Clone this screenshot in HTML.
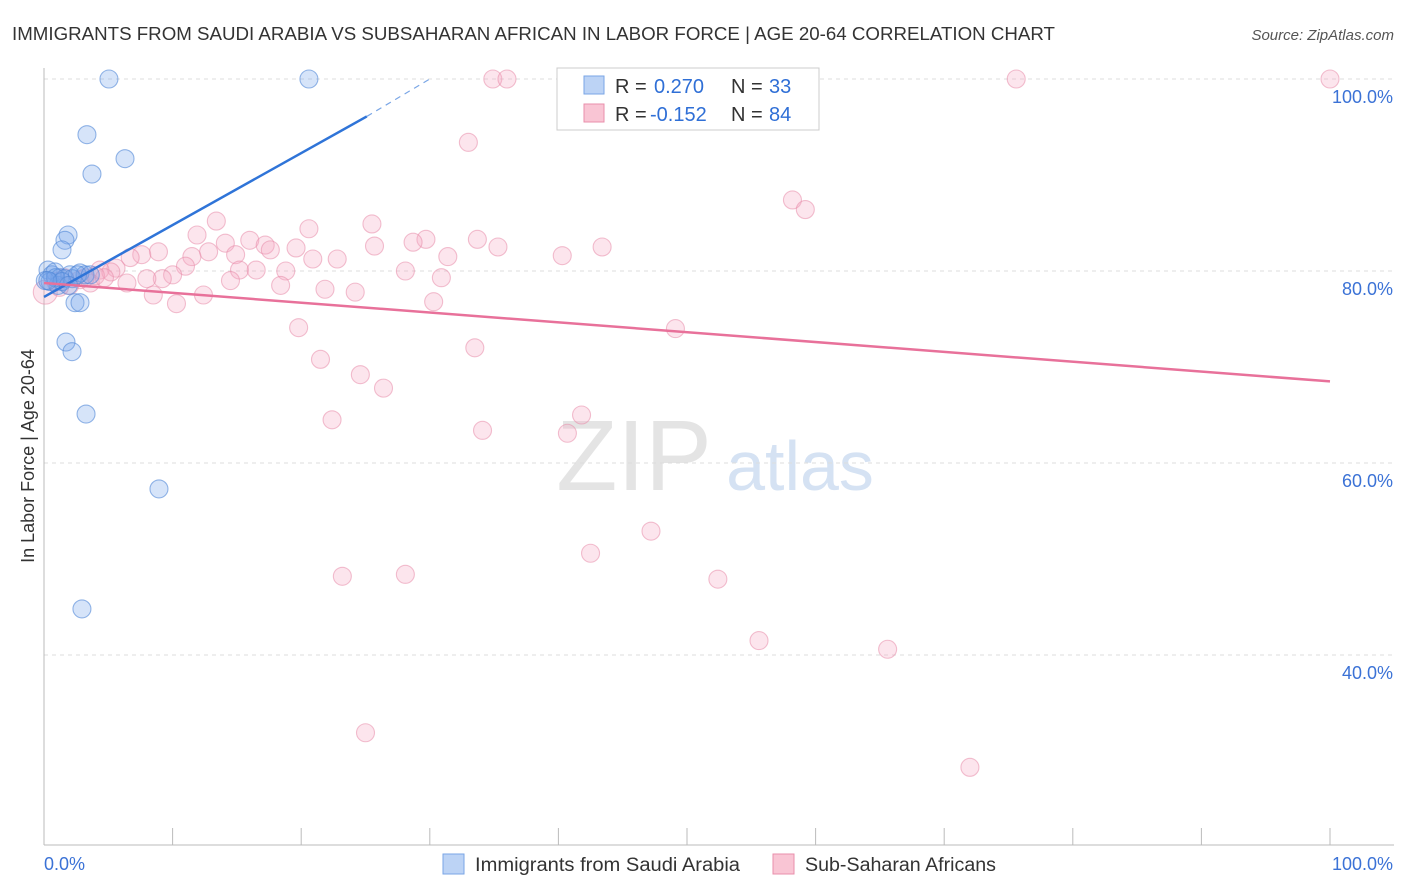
<!DOCTYPE html>
<html><head><meta charset="utf-8">
<style>
html,body{margin:0;padding:0;background:#fff;width:1406px;height:892px;overflow:hidden;font-family:"Liberation Sans",sans-serif;}
svg text{font-family:"Liberation Sans",sans-serif;}
</style></head>
<body>
<svg id="chart" width="1406" height="892" xmlns="http://www.w3.org/2000/svg">
<text x="12" y="40" font-size="18" fill="#333" textLength="1043" lengthAdjust="spacingAndGlyphs">IMMIGRANTS FROM SAUDI ARABIA VS SUBSAHARAN AFRICAN IN LABOR FORCE | AGE 20-64 CORRELATION CHART</text>
<text x="1394" y="40" font-size="15" fill="#555" font-style="italic" text-anchor="end">Source: ZipAtlas.com</text>
<text x="634" y="490" font-size="100" fill="#e4e4e4" font-family="Liberation Serif" text-anchor="middle">ZIP</text>
<text x="800" y="490" font-size="70" fill="#d5e2f3" text-anchor="middle">atlas</text>
<text transform="translate(34,456) rotate(-90)" font-size="18" fill="#333" text-anchor="middle">In Labor Force | Age 20-64</text>
<g id="grid"></g>
<g id="axes"></g>
<g id="pts"></g>
<g id="trend"></g>
<g>
<rect x="557" y="68" width="262" height="62" fill="#fff" stroke="#ccc"/>
<rect x="584" y="76" width="20" height="18" fill="#bcd3f5" stroke="#7aa6e6"/>
<rect x="584" y="104" width="20" height="18" fill="#f9c5d4" stroke="#e98fab"/>
<text x="615" y="93" font-size="20" fill="#333">R =</text>
<text x="654" y="93" font-size="20" fill="#2f6fd6">0.270</text>
<text x="731" y="93" font-size="20" fill="#333">N =</text>
<text x="769" y="93" font-size="20" fill="#2f6fd6">33</text>
<text x="615" y="121" font-size="20" fill="#333">R =</text>
<text x="650" y="121" font-size="20" fill="#2f6fd6">-0.152</text>
<text x="731" y="121" font-size="20" fill="#333">N =</text>
<text x="769" y="121" font-size="20" fill="#2f6fd6">84</text>
</g>
<g>
<rect x="443" y="854" width="21" height="20" fill="#bcd3f5" stroke="#7aa6e6"/>
<text x="475" y="871" font-size="19" fill="#333" textLength="265" lengthAdjust="spacingAndGlyphs">Immigrants from Saudi Arabia</text>
<rect x="773" y="854" width="21" height="20" fill="#f9c5d4" stroke="#e98fab"/>
<text x="805" y="871" font-size="19" fill="#333" textLength="191" lengthAdjust="spacingAndGlyphs">Sub-Saharan Africans</text>
</g>
</svg>
<script>
const yTicks=[40,60,80,100];
const yTickLabels=["40.0%","60.0%","80.0%","100.0%"];
const blueX=[5.05,20.6,3.34,6.3,3.73,1.87,1.63,1.4,0.31,0.62,0.86,1.24,2.02,2.8,3.19,0.47,1.09,2.41,2.8,1.71,2.18,3.27,8.94,2.95,0.1,1.6,2.2,2.6,3.6,0.9,1.4,0.3,1.9];
const blueY=[100,100,94.2,91.7,90.1,83.75,83.2,82.2,80.1,79.6,79.9,79.3,79.6,79.8,79.6,78.9,78.5,76.7,76.7,72.6,71.6,65.1,57.3,44.8,79.0,79.2,79.2,79.6,79.6,79.3,78.9,79.0,78.5];
const pinkX=[34.9,36.0,46.2,54.7,75.6,100,33.0,58.2,59.2,13.4,25.5,20.6,11.9,29.7,33.7,28.7,16.0,14.1,17.2,25.7,35.3,43.4,17.6,19.6,12.8,8.9,7.6,6.7,11.5,22.8,20.9,31.4,40.3,14.9,11.0,15.2,16.5,18.8,28.1,5.6,4.35,5.2,10.0,9.2,8.0,30.9,14.5,18.4,6.45,3.6,2.8,21.85,24.2,8.5,12.4,10.3,30.3,49.1,19.8,33.5,21.5,24.6,26.4,22.4,41.8,34.1,40.7,47.2,42.5,23.2,28.1,52.4,55.6,65.6,25.0,72.0,0.1,0.9,1.6,2.0,4.0,4.7,1.2,3.2];
const pinkY=[100,100,100,100,100,100,93.4,87.4,86.4,85.2,84.9,84.4,83.75,83.3,83.3,83.0,83.2,82.9,82.7,82.6,82.5,82.5,82.2,82.4,82.0,82.0,81.7,81.4,81.5,81.25,81.25,81.5,81.6,81.7,80.5,80.1,80.1,80.0,80.0,80.3,80.1,79.9,79.6,79.2,79.2,79.3,79.0,78.5,78.75,78.75,79.1,78.1,77.8,77.5,77.5,76.6,76.8,74.0,74.1,72.0,70.8,69.2,67.8,64.5,65.0,63.4,63.1,52.9,50.6,48.2,48.4,47.9,41.5,40.6,31.9,28.3,77.8,78.9,79.3,78.5,79.5,79.3,78.3,79.3];
const blueTrend=[[0,77.3],[25.1,96.1],[30,100]];
const pinkTrend=[[0,78.75],[100,68.5]];

const NS="http://www.w3.org/2000/svg";
const xs=v=>44+v*12.86;
const ys=v=>79+(100-v)*9.6;
function mk(tag,attrs,parent){const e=document.createElementNS(NS,tag);for(const k in attrs)e.setAttribute(k,attrs[k]);parent.appendChild(e);return e;}
const grid=document.getElementById('grid'),axes=document.getElementById('axes'),pts=document.getElementById('pts'),trend=document.getElementById('trend');
yTicks.forEach((t,i)=>{
 const l=mk('line',{x1:44,x2:1394,y1:ys(t),y2:ys(t),stroke:'#ddd','stroke-dasharray':'4,4'},grid);
 
 
 const tx=mk('text',{x:1393,y:ys(t)+24,'font-size':18,fill:'#3b72d6','text-anchor':'end'},axes);
 tx.textContent=yTickLabels[i];
 
 
});
const ya=mk('line',{x1:44,x2:44,y1:68,y2:845,stroke:'#bbb'},axes);


const xa=mk('line',{x1:44,x2:1394,y1:845,y2:845,stroke:'#bbb'},axes);


for(let i=0;i<=10;i++){const t=mk('line',{x1:xs(i*10),x2:xs(i*10),y1:828,y2:845,stroke:'#bbb'},axes);
 
 }
[["0.0%",44,'start'],["100.0%",1393,'end']].forEach(a=>{const t=mk('text',{x:a[1],y:870,'font-size':18,fill:'#3b72d6','text-anchor':a[2]},axes);t.textContent=a[0];
 
 });
pinkX.forEach((x,i)=>{const c=mk('circle',{cx:xs(x),cy:ys(pinkY[i]),r:i==76?12:9,fill:'rgba(246,170,194,0.3)',stroke:'rgba(232,140,170,0.55)','stroke-width':1.1},pts);
 
 });
blueX.forEach((x,i)=>{const c=mk('circle',{cx:xs(x),cy:ys(blueY[i]),r:9,fill:'rgba(120,165,235,0.3)',stroke:'rgba(80,135,215,0.6)','stroke-width':1.1},pts);
 
 });
const bt=mk('line',{x1:xs(blueTrend[0][0]),y1:ys(blueTrend[0][1]),x2:xs(blueTrend[1][0]),y2:ys(blueTrend[1][1]),stroke:'#2f74d8','stroke-width':2.5},trend);


const bd=mk('line',{x1:xs(blueTrend[1][0]),y1:ys(blueTrend[1][1]),x2:xs(blueTrend[2][0]),y2:ys(blueTrend[2][1]),stroke:'#7aa6e6','stroke-width':1.2,'stroke-dasharray':'6,5'},trend);


const pt=mk('line',{x1:xs(pinkTrend[0][0]),y1:ys(pinkTrend[0][1]),x2:xs(pinkTrend[1][0]),y2:ys(pinkTrend[1][1]),stroke:'#e8719a','stroke-width':2.5},trend);


</script>
</body></html>
